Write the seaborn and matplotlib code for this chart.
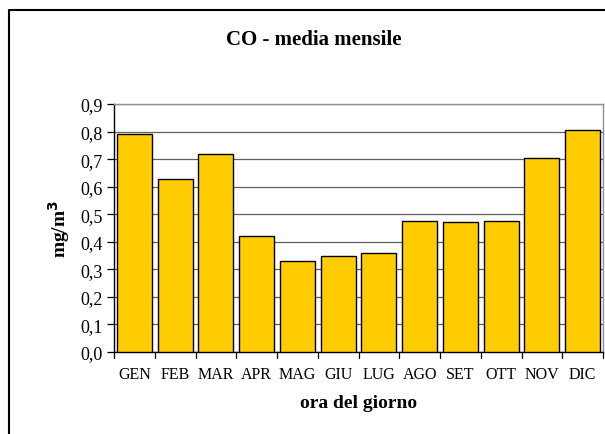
import matplotlib
matplotlib.use("Agg")
import matplotlib.pyplot as plt
import seaborn as sns
import pandas as pd
from matplotlib.lines import Line2D

months = ["GEN", "FEB", "MAR", "APR", "MAG", "GIU", "LUG", "AGO", "SET", "OTT", "NOV", "DIC"]
values = [0.79, 0.628, 0.72, 0.42, 0.33, 0.35, 0.36, 0.475, 0.47, 0.475, 0.705, 0.805]
tick_labels = ["GEN", "FEB", "MAR", "APR", "MAG", "GIU", "LUG", "AGO", "SET", "OTT", "NOV", "DIC"]
yticks = [0.0, 0.1, 0.2, 0.3, 0.4, 0.5, 0.6, 0.7, 0.8, 0.9]

df = pd.DataFrame({"mese": months, "valore": values})

sns.set_theme(style="white")
plt.rcParams["font.family"] = ["Liberation Serif", "DejaVu Serif"]
plt.rcParams["text.color"] = "black"
plt.rcParams["axes.labelcolor"] = "black"
plt.rcParams["xtick.color"] = "black"
plt.rcParams["ytick.color"] = "black"

fig = plt.figure(figsize=(6.05, 4.35), dpi=100)
ax = fig.add_axes([114/605, 1-353/435, (603-114)/605, (353-105)/435])

sns.barplot(data=df, x="mese", y="valore", order=months, color="#FFCC00",
            saturation=1, edgecolor="black", linewidth=1.0, width=0.86, ax=ax, zorder=3)

ax.set_ylim(0, 0.9)
ax.set_xlim(-0.5, len(months) - 0.5)
ax.set_yticks(yticks)
ax.set_yticklabels([f"{v:.1f}".replace(".", ",") for v in yticks], fontsize=13)
ax.set_xticks(range(len(months)))
ax.set_xticklabels(tick_labels, fontsize=11.5)
ax.yaxis.grid(True, color="#606060", linewidth=0.9, zorder=0)
ax.set_axisbelow(True)

ax.tick_params(axis="x", length=0, pad=10)
ax.tick_params(axis="y", length=5, width=0.9, color="black", direction="out", left=True, pad=3)
for b in [i - 0.5 for i in range(len(months) + 1)]:
    ax.plot([b, b], [0, -0.02], color="black", lw=0.9, clip_on=False, transform=ax.transData)

for s in ["left", "bottom"]:
    ax.spines[s].set_color("black")
    ax.spines[s].set_linewidth(1.0)
for s in ["top", "right"]:
    ax.spines[s].set_color("#909090")
    ax.spines[s].set_linewidth(1.0)

ax.set_xlabel("ora del giorno", fontsize=14, fontweight="bold", labelpad=9)
ax.set_ylabel("mg/m$^\\mathbf{3}$", fontsize=14, fontweight="bold", labelpad=6)
fig.text(314/605, 1-40/435, "CO - media mensile", ha="center", va="center",
         fontsize=15, fontweight="bold")

# outer chart border
fig.add_artist(Line2D([9/605, 9/605, 1.0], [0.0, 1-11/435, 1-11/435],
                      transform=fig.transFigure, color="black", lw=1.5))

fig.savefig("out.png", dpi=100)
